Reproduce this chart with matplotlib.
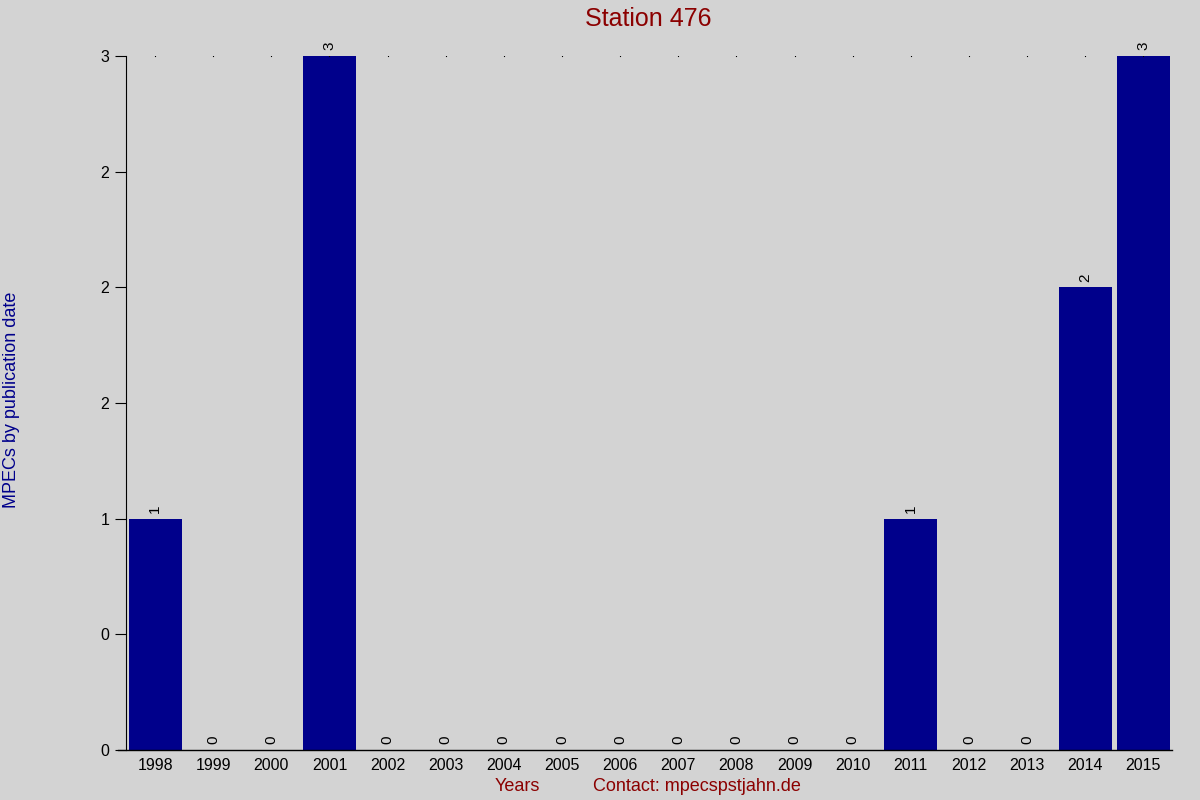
import matplotlib
matplotlib.use('Agg')
import matplotlib.pyplot as plt
import numpy as np

years = ['1998', '1999', '2000', '2001', '2002', '2003', '2004', '2005', '2006',
         '2007', '2008', '2009', '2010', '2011', '2012', '2013', '2014', '2015']
mpecs = [1, 0, 0, 3, 0, 0, 0, 0, 0, 0, 0, 0, 0, 1, 0, 0, 2, 3]
yticks = [0, 0.5, 1, 1.5, 2, 2.5, 3]

bg = '#d3d3d3'
fig = plt.figure(figsize=(12, 8), dpi=100, facecolor=bg)
ax = fig.add_axes([0.105, 0.0625, 0.872, 0.8675], facecolor=bg)

x = np.arange(len(years))
ax.bar(x, mpecs, width=0.91, color='#00008b')

# value labels above each bar
for xi, v in zip(x, mpecs):
    ax.text(xi, v + 0.025, str(v), rotation=90, ha='center', va='bottom',
            fontsize=11, color='black', family='Liberation Sans')

# tiny dots along the top
ax.plot(x, [max(mpecs)] * len(x), linestyle='', marker='s', markersize=0.8,
        markeredgewidth=0, color='black')

ax.set_xlim(-0.5, len(years) - 0.5)
ax.set_ylim(0, 3)
ax.set_xticks(x)
ax.set_xticklabels(years, fontsize=11.5, family='Liberation Sans')
ax.tick_params(axis='x', length=0, pad=6)
ax.set_yticks(yticks)
ax.set_yticklabels(['%.0f' % t for t in yticks], fontsize=11.5, family='Liberation Sans')
ax.tick_params(axis='y', length=8, direction='out', pad=4)

for s in ['top', 'right']:
    ax.spines[s].set_visible(False)
ax.spines['bottom'].set_visible(False)
ax.plot([-0.008, 1], [0, 0], transform=ax.transAxes, clip_on=False, color='black', lw=1)

fig.text(0.54, 0.976, 'Station 476', ha='center', va='center', fontsize=18,
         color='#8b0000', family='Liberation Sans')
fig.text(0.0095, 0.5, 'MPECs by publication date', rotation=90, ha='center', va='center',
         fontsize=13, color='#00008b', family='Liberation Sans')
fig.text(0.431, 0.017, 'Years', ha='center', va='center', fontsize=13,
         color='#8b0000', family='Liberation Sans')
fig.text(0.581, 0.017, 'Contact: mpecspstjahn.de', ha='center', va='center', fontsize=13,
         color='#8b0000', family='Liberation Sans')

fig.savefig('out.png', dpi=100, facecolor=bg)
